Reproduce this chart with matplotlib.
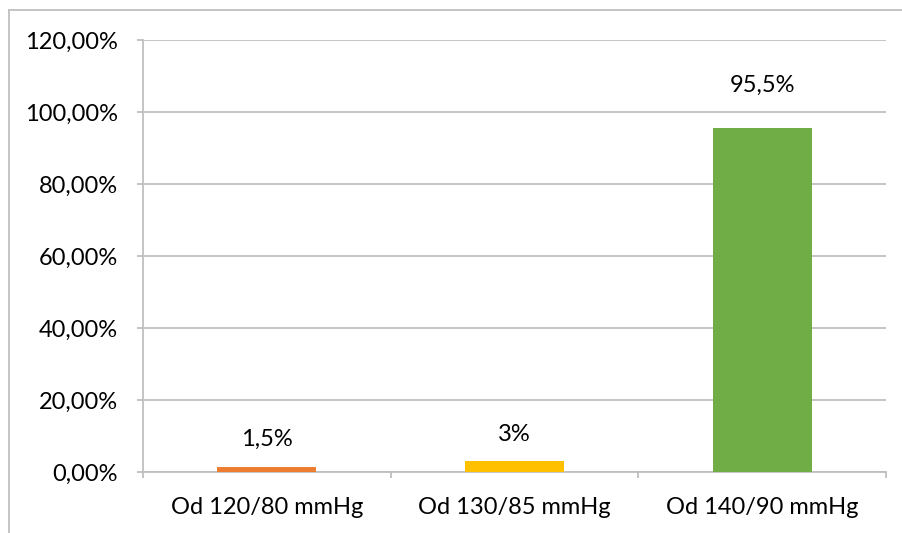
import matplotlib.pyplot as plt
from matplotlib.lines import Line2D
from matplotlib.ticker import FuncFormatter

# Kategorie tlaku krwi i udział procentowy
categories = ["Od 120/80 mmHg", "Od 130/85 mmHg", "Od 140/90 mmHg"]
values = [1.5, 3.0, 95.5]
value_labels = ["1,5%", "3%", "95,5%"]
colors = ["#ED7D31", "#FFC000", "#70AD47"]
label_offsets = [12, 12, 23]  # odstęp etykiety nad słupkiem (pt)

plt.rcParams['font.family'] = ['Lato', 'DejaVu Sans']

fig = plt.figure(figsize=(9.03, 5.33), dpi=100)
ax = fig.add_axes([143 / 903, 61 / 533, 743 / 903, 432 / 533])

grid_color = "#BFBFBF"
x = list(range(len(categories)))
bars = ax.bar(x, values, width=0.4, color=colors, zorder=3)

for bar, lab, off in zip(bars, value_labels, label_offsets):
    ax.annotate(lab, (bar.get_x() + bar.get_width() / 2, bar.get_height()),
                xytext=(0, off), textcoords="offset points",
                ha="center", va="bottom", fontsize=17, color="#000000")

ax.set_xlim(-0.5, len(categories) - 0.5)
ax.set_ylim(0, 120)
ax.set_yticks(range(0, 121, 20))
ax.yaxis.set_major_formatter(FuncFormatter(lambda v, p: f"{v:.2f}".replace(".", ",") + "%"))
ax.set_xticks(x)
ax.set_xticklabels(categories)
ax.set_xticks([-0.5, 0.5, 1.5, 2.5], minor=True)

ax.yaxis.grid(True, color=grid_color, linewidth=1.3, zorder=0)
ax.tick_params(axis="y", length=4, width=1.3, color=grid_color, pad=14, labelsize=17)
ax.tick_params(axis="x", which="major", length=0, pad=18, labelsize=17)
ax.tick_params(axis="x", which="minor", length=4, width=1.3, color=grid_color)

for side in ["top", "right"]:
    ax.spines[side].set_visible(False)
for side in ["left", "bottom"]:
    ax.spines[side].set_color(grid_color)
    ax.spines[side].set_linewidth(1.3)

# ramka wykresu (górna i lewa krawędź)
fig.add_artist(Line2D([9 / 903, 1], [1 - 10 / 533, 1 - 10 / 533], color=grid_color, linewidth=1.3))
fig.add_artist(Line2D([9 / 903, 9 / 903], [0, 1 - 10 / 533], color=grid_color, linewidth=1.3))

fig.savefig("out.png", dpi=100)
